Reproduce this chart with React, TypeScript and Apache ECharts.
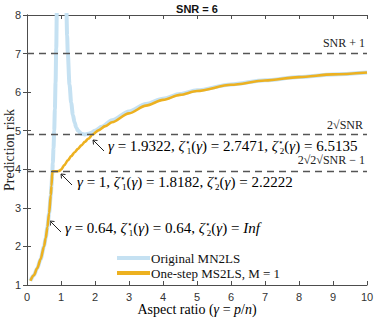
import React, { useEffect, useRef } from "react";
import * as echarts from "echarts";

// Original MN2LS (blue), null = break at the interpolation threshold
const gammaBlue = [0.1, 0.2, 0.3, 0.4, 0.5, 0.55, 0.6, 0.65, 0.7, 0.72, 0.74, 0.76, 0.78, 0.8, 0.82, 0.84, 0.86, 0.88, 0.9, 1.0,
  1.1, 1.12, 1.14, 1.16, 1.18, 1.2, 1.25, 1.3, 1.35, 1.4, 1.45, 1.5, 1.6, 1.7, 1.8, 1.9, 2.0, 2.2, 2.5, 3, 3.5, 4, 4.5, 5, 6, 7, 8, 9, 10];
const riskBlue = [1.11, 1.25, 1.43, 1.67, 2.0, 2.22, 2.5, 2.86, 3.33, 3.57, 3.85, 4.17, 4.55, 5.0, 5.56, 6.25, 7.14, 8.33, 10, null,
  11.5, 9.98, 8.88, 8.08, 7.47, 7.0, 6.2, 5.72, 5.41, 5.21, 5.08, 5.0, 4.92, 4.9, 4.92, 4.95, 5.0, 5.1, 5.27, 5.5, 5.69, 5.83, 5.95, 6.05, 6.2, 6.31, 6.39, 6.46, 6.51];

// One-step MS2LS, M = 1 (orange)
const gammaOrange = [0.1, 0.2, 0.3, 0.4, 0.5, 0.55, 0.6, 0.65, 0.7, 0.72, 0.747, 0.8, 0.9, 0.95, 1.0, 1.1, 1.2, 1.3, 1.4, 1.5, 1.6, 1.7, 1.8, 1.93,
  2.1, 2.3, 2.5, 3, 3.5, 4, 4.5, 5, 6, 7, 8, 9, 10];
const riskOrange = [1.11, 1.25, 1.43, 1.67, 2.0, 2.22, 2.5, 2.86, 3.33, 3.57, 3.95, 3.95, 3.95, 3.96, 3.99, 4.11, 4.23, 4.34, 4.44, 4.53, 4.62, 4.71, 4.79, 4.9,
  5.01, 5.12, 5.22, 5.45, 5.65, 5.8, 5.93, 6.03, 6.19, 6.3, 6.39, 6.46, 6.51];

// Reference levels: SNR + 1, 2*sqrt(SNR), 2*sqrt(2*sqrt(SNR) - 1)
const refLevels = [7, 4.899, 3.949];

const xTicks = [0, 1, 2, 3, 4, 5, 6, 7, 8, 9, 10];
const yTicks = [1, 2, 3, 4, 5, 6, 7, 8];

const SERIF = "'Liberation Serif', serif";
const SANS = "'Liberation Sans', Arial, sans-serif";

export default function App() {
  const ref = useRef<HTMLDivElement>(null);
  useEffect(() => {
    if (!ref.current) return;
    const chart = echarts.init(ref.current, null, { renderer: "svg" });
    const bluePairs = gammaBlue.map((g, i) => [g, riskBlue[i] === null ? "-" : riskBlue[i]]);
    const orangePairs = gammaOrange.map((g, i) => [g, riskOrange[i]]);
    const axisCol = "#4d4d4d";
    const FS = 15;
    const rich = {
      n: { fontFamily: SERIF, fontSize: FS, color: "#111", lineHeight: 18, verticalAlign: "middle" },
      i: { fontFamily: SERIF, fontSize: FS, fontStyle: "italic", color: "#111", lineHeight: 18, verticalAlign: "middle" },
      sp: { fontFamily: SERIF, fontSize: 9, color: "#111", verticalAlign: "top", lineHeight: 18 },
      sb: { fontFamily: SERIF, fontSize: 9, color: "#111", verticalAlign: "bottom", lineHeight: 18, padding: [0, 0, 0, -4] },
    };
    const zeta = (k: string) => `{i|ζ}{sp|⋆}{sb|${k}}{n|(}{i|γ}{n|)}`;
    const ann = (g: string, z1: string, z2: string, z2i: boolean) =>
      `{i|γ}{n| = ${g}, }${zeta("1")}{n| = ${z1}, }${zeta("2")}{n| = }{${z2i ? "i" : "n"}|${z2}}`;
    const arrow = (tx: number, ty: number) => [
      { type: "line", shape: { x1: tx, y1: ty, x2: tx + 11, y2: ty + 11 }, style: { stroke: "#222", lineWidth: 1 } },
      { type: "polyline", shape: { points: [[tx + 4.5, ty + 0.5], [tx, ty], [tx + 0.5, ty + 4.5]] }, style: { stroke: "#222", lineWidth: 1, fill: null } },
    ];
    const nameRich = {
      n: { fontFamily: SERIF, fontSize: 14, color: "#222" },
      a: { fontFamily: SERIF, fontSize: 14, fontStyle: "italic", color: "#222" },
    };
    chart.setOption({
      animation: false,
      grid: { left: 27, right: 7, top: 15, bottom: 33, containLabel: false, outerBoundsMode: "none" },
      xAxis: [
        {
          type: "value", min: xTicks[0], max: xTicks[xTicks.length - 1], interval: 1,
          axisLine: { lineStyle: { color: axisCol, width: 1 } },
          axisTick: { inside: true, length: 4, lineStyle: { color: axisCol } },
          axisLabel: { fontFamily: SANS, fontSize: 11, color: "#333", margin: 6 },
          splitLine: { show: false },
        },
        {
          type: "value", position: "top", min: 0, max: 10, interval: 1,
          axisLine: { lineStyle: { color: axisCol } },
          axisTick: { inside: true, length: 4, lineStyle: { color: axisCol } },
          axisLabel: { show: false }, splitLine: { show: false },
        },
      ],
      yAxis: [
        {
          type: "value", min: yTicks[0], max: yTicks[yTicks.length - 1], interval: 1,
          axisLine: { show: true, lineStyle: { color: axisCol } },
          axisTick: { show: true, inside: true, length: 4, lineStyle: { color: axisCol } },
          axisLabel: { fontFamily: SANS, fontSize: 11, color: "#333", margin: 6 },
          splitLine: { show: false },
        },
        {
          type: "value", position: "right", min: 1, max: 8, interval: 1,
          axisLine: { show: true, lineStyle: { color: axisCol } },
          axisTick: { show: true, inside: true, length: 4, lineStyle: { color: axisCol } },
          axisLabel: { show: false }, splitLine: { show: false },
        },
      ],
      legend: {
        orient: "vertical", left: 112, top: 246, itemGap: 1, itemWidth: 33, itemHeight: 4,
        icon: "rect",
        textStyle: { fontFamily: SERIF, fontSize: 13, lineHeight: 14, color: "#111", padding: [0, 0, 0, -4] },
        data: ["Original MN2LS", "One-step MS2LS, M = 1"],
      },
      series: [
        {
          name: "Original MN2LS", type: "line", data: bluePairs, showSymbol: false, symbol: "none",
          smooth: 0.3, smoothMonotone: "x", clip: true,
          lineStyle: { color: "#c5e1f2", width: 4 }, itemStyle: { color: "#c5e1f2" },
          markLine: {
            silent: true, symbol: "none", label: { show: false },
            lineStyle: { color: "#555", type: [7, 5], width: 1.3 },
            data: refLevels.map((v) => ({ yAxis: v })),
          },
          z: 2,
        },
        {
          name: "One-step MS2LS, M = 1", type: "line", data: orangePairs, showSymbol: false, symbol: "none",
          smooth: 0.3, smoothMonotone: "x", clip: true,
          lineStyle: { color: "#EDB120", width: 2.6 }, itemStyle: { color: "#EDB120" },
          z: 3,
        },
      ],
      graphic: [
        { type: "text", x: 197, y: 9, style: { text: "SNR = 6", fontFamily: SANS, fontWeight: "bold", fontSize: 11, fill: "#111", align: "center", verticalAlign: "middle" } },
        { type: "text", x: 197, y: 309, style: { text: "{n|Aspect ratio (}{a|γ}{n| = }{a|p}{n|/}{a|n}{n|)}", rich: nameRich, align: "center", verticalAlign: "middle" } },
        { type: "text", x: 9, y: 150, rotation: Math.PI / 2, style: { text: "Prediction risk", fontFamily: SERIF, fontSize: 14, fill: "#222", align: "center", verticalAlign: "middle" } },
        { type: "text", x: 365, y: 43, style: { text: "SNR + 1", fontFamily: SERIF, fontSize: 12, fill: "#222", align: "right", verticalAlign: "middle" } },
        { type: "text", x: 363, y: 125, style: { text: "2√SNR", fontFamily: SERIF, fontSize: 12, fill: "#222", align: "right", verticalAlign: "middle" } },
        { type: "text", x: 365, y: 160, style: { text: "2√2√SNR − 1", fontFamily: SERIF, fontSize: 12, fill: "#222", align: "right", verticalAlign: "middle" } },
        { type: "text", x: 108, y: 146, style: { text: ann("1.9322", "2.7471", "6.5135", false), rich, align: "left", verticalAlign: "middle" } },
        { type: "text", x: 77, y: 182, style: { text: ann("1", "1.8182", "2.2222", false), rich, align: "left", verticalAlign: "middle" } },
        { type: "text", x: 65, y: 228, style: { text: ann("0.64", "0.64", "Inf", true), rich, align: "left", verticalAlign: "middle" } },
        ...arrow(93, 140),
        ...arrow(61, 174),
        ...arrow(50, 221),
      ],
    });
    return () => chart.dispose();
  }, []);
  return <div ref={ref} style={{ position: "fixed", left: 0, top: 0, width: 374, height: 318, background: "#fff" }} />;
}
